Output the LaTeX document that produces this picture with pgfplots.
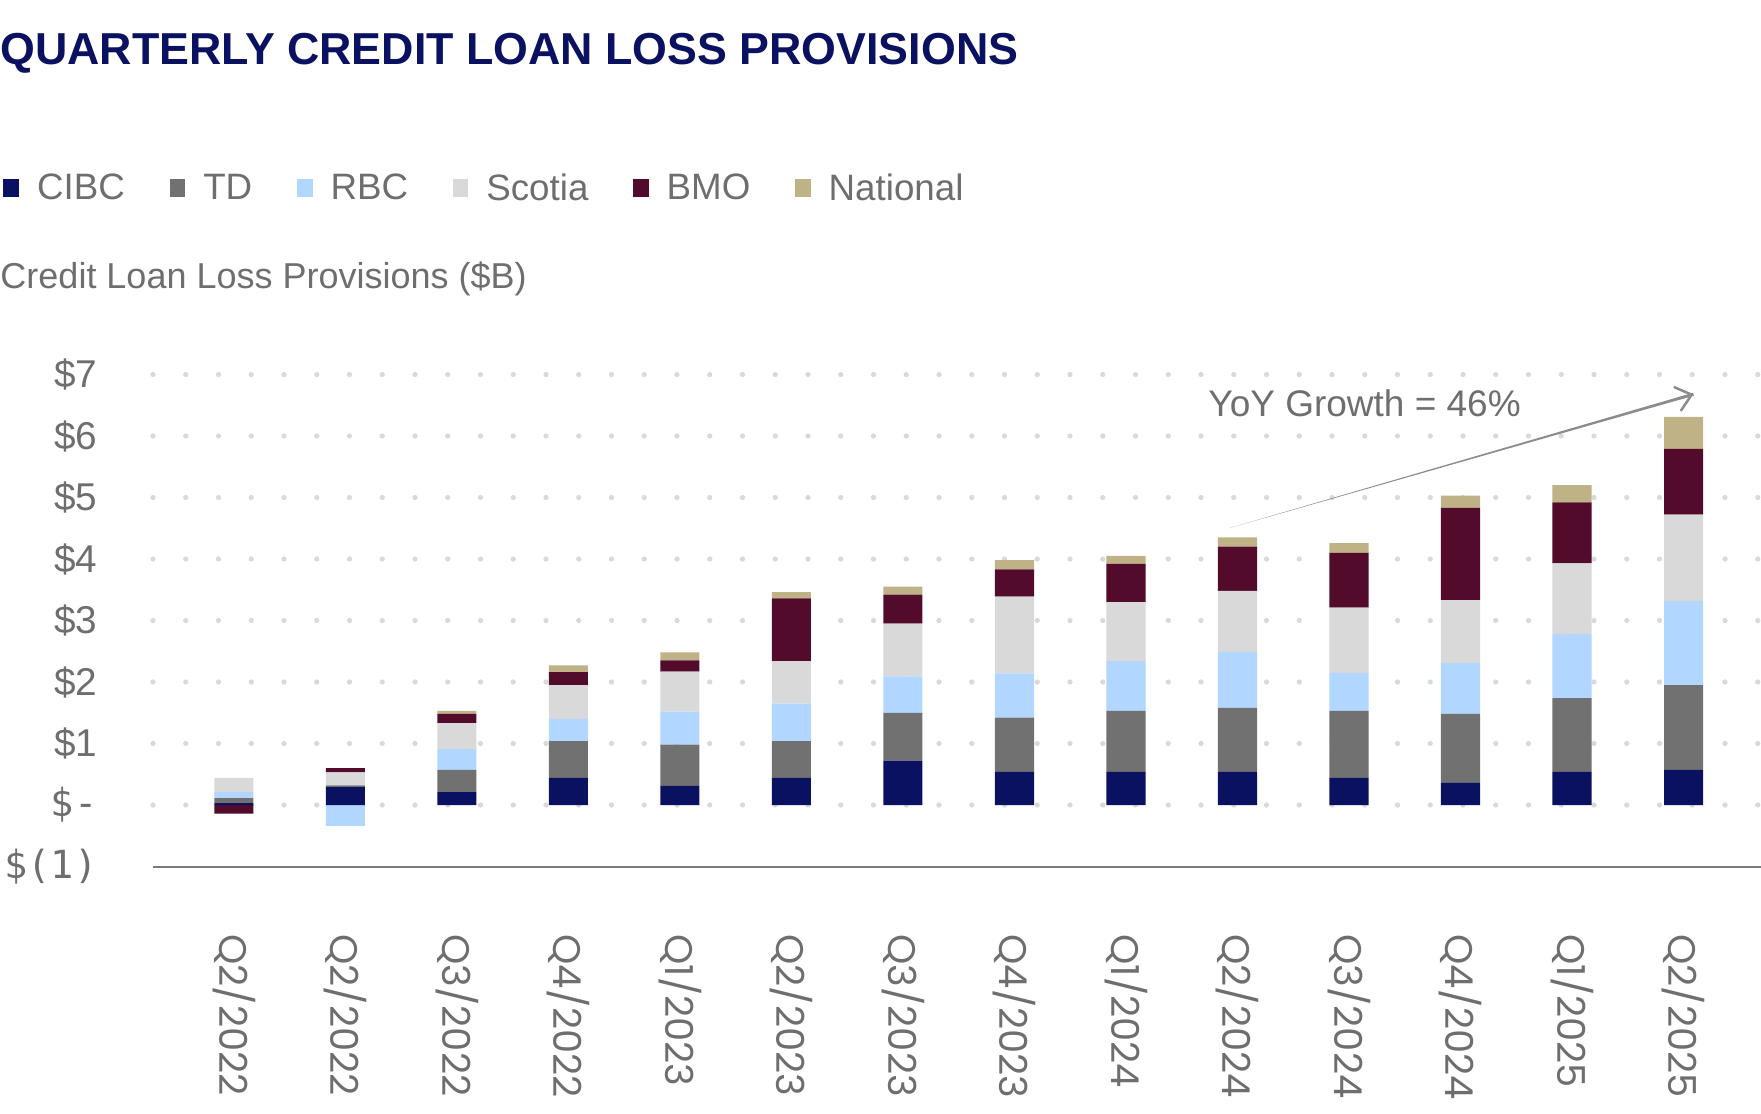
\documentclass[border=0pt]{standalone}
\usepackage{pgfplots}
\pgfplotsset{compat=1.18}
\usepackage{pgfplotstable}
\usetikzlibrary{calc,arrows.meta}
\usepackage{fontspec}
\setmainfont{Liberation Sans}
\newfontfamily\poppins{Poppins}
\newfontfamily\dmono{DejaVu Sans Mono}
\definecolor{cibc}{HTML}{0A1160}
\definecolor{td}{HTML}{717171}
\definecolor{rbc}{HTML}{B1D6FF}
\definecolor{scotia}{HTML}{D9D9D9}
\definecolor{bmo}{HTML}{520B2B}
\definecolor{national}{HTML}{BFB287}
\definecolor{titlec}{HTML}{0A1160}
\definecolor{txtgray}{HTML}{6E6E6E}
\definecolor{gridc}{HTML}{D9D9D9}
\definecolor{axgray}{HTML}{7A7A7A}
\definecolor{arrowgray}{HTML}{8C8C8C}
\pgfplotsset{sqlegend/.style={legend image code/.code={\fill[##1] (0pt,-3.4pt) rectangle (6.3pt,3.8pt);}}}
\pgfplotstableread{
x CIBC TD RBC Scotia BMO National
0 0.03 0.08 0.10 0.23 -0.14 0
1 0.29 0.03 -0.34 0.21 0.07 0
2 0.21 0.36 0.34 0.42 0.15 0.05
3 0.44 0.60 0.36 0.55 0.21 0.11
4 0.31 0.67 0.54 0.65 0.18 0.13
5 0.44 0.60 0.61 0.69 1.02 0.10
6 0.72 0.78 0.59 0.86 0.47 0.13
7 0.54 0.88 0.72 1.25 0.44 0.15
8 0.54 0.99 0.81 0.96 0.62 0.13
9 0.54 1.04 0.91 0.99 0.72 0.15
10 0.44 1.09 0.62 1.06 0.89 0.16
11 0.36 1.12 0.83 1.02 1.50 0.20
12 0.54 1.20 1.04 1.15 0.99 0.28
13 0.57 1.38 1.37 1.40 1.07 0.52
}\datatable
\begin{document}
\begin{tikzpicture}
\useasboundingbox (0,0) rectangle (704.4pt,445.2pt);
\node[anchor=base west, inner sep=0pt, text=titlec, font=\bfseries\fontsize{17.9}{20}\selectfont] at (0pt,419.2pt) {QUARTERLY CREDIT LOAN LOSS PROVISIONS};
\node[anchor=base west, inner sep=0pt, text=txtgray, font=\fontsize{14.4}{17}\selectfont] at (0pt,329.6pt) {Credit Loan Loss Provisions (\$B)};
\begin{axis}[
  at={(61.2pt,98.6pt)}, anchor=south west,
  scale only axis, width=643.2pt, height=201.72pt,
  ybar stacked, stack negative=separate,
  bar width=0.35,
  every axis plot/.append style={sqlegend},
  xmin=-0.726, xmax=13.695, ymin=-1, ymax=7.2,
  clip=false,
  axis x line*=bottom, axis y line*=left,
  x axis line style={draw=axgray, line width=0.8pt, -},
  y axis line style={draw=none},
  major tick length=0pt,
  xtick=data,
  xticklabels={Q2/2022,Q2/2022,Q3/2022,Q4/2022,Q1/2023,Q2/2023,Q3/2023,Q4/2023,Q1/2024,Q2/2024,Q3/2024,Q4/2024,Q1/2025,Q2/2025},
  xticklabel style={font=\poppins\fontsize{15.4}{18}\selectfont, text=txtgray, rotate=-90, anchor=west, inner sep=0pt},
  xticklabel shift=27pt,
  ytick={0,1,2,3,4,5,6,7},
  yticklabels={{\dmono\$-},\$1,\$2,\$3,\$4,\$5,\$6,\$7},
  extra y ticks={-1},
  extra y tick labels={{\dmono\$(1)}},
  extra y tick style={grid=none},
  yticklabel style={font=\fontsize{15.5}{18}\selectfont, text=txtgray, anchor=east, inner sep=0pt, xshift=-22pt},
  ymajorgrids,
  major grid style={draw=gridc, line width=2.1pt, line cap=round, dash pattern=on 0pt off 13.1pt},
  legend style={at={(-0.0933,1.344)}, anchor=west, draw=none, fill=none,
    font=\fontsize{14.7}{17}\selectfont, text=txtgray, inner sep=0pt,
    nodes={inner sep=0pt},
    /tikz/every odd column/.append style={column sep=7.2pt},
    /tikz/every even column/.append style={column sep=17.8pt}},
  legend columns=-1,
  legend cell align=left,
]
\addplot[sqlegend, fill=cibc, draw=none] table[x=x,y=CIBC]{\datatable};
\addplot[sqlegend, fill=td, draw=none] table[x=x,y=TD]{\datatable};
\addplot[sqlegend, fill=rbc, draw=none] table[x=x,y=RBC]{\datatable};
\addplot[sqlegend, fill=scotia, draw=none] table[x=x,y=Scotia]{\datatable};
\addplot[sqlegend, fill=bmo, draw=none] table[x=x,y=BMO]{\datatable};
\addplot[sqlegend, fill=national, draw=none] table[x=x,y=National]{\datatable};
\legend{CIBC,TD,RBC,Scotia,BMO,National}
\node[anchor=base west, inner sep=0pt, text=txtgray, font=\fontsize{14.8}{17}\selectfont] at (axis cs:8.735,6.31) {YoY Growth = 46\%};
\fill[arrowgray] (axis cs:8.92,4.50) -- ($(axis cs:13.09,6.68)!0.6pt!90:(axis cs:8.92,4.50)$) -- ($(axis cs:13.09,6.68)!0.6pt!-90:(axis cs:8.92,4.50)$) -- cycle;
\draw[arrowgray, line width=1pt, -{Straight Barb[length=6pt,width=10pt]}] ($(axis cs:8.92,4.50)!0.97!(axis cs:13.09,6.68)$) -- (axis cs:13.09,6.68);
\end{axis}
\end{tikzpicture}
\end{document}
